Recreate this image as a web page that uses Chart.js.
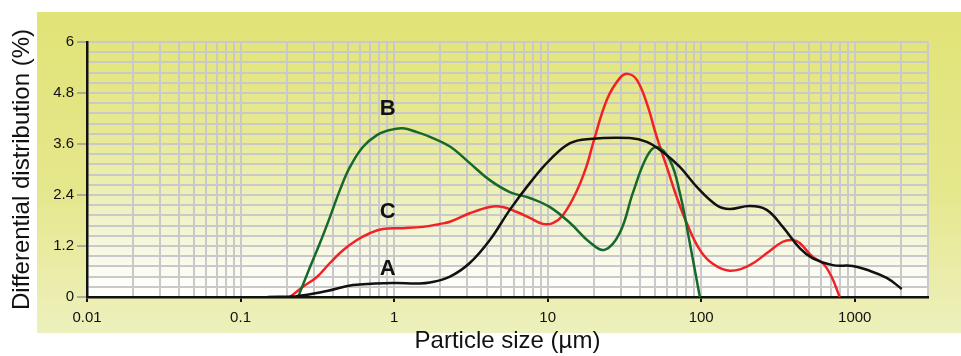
<!DOCTYPE html>
<html>
<head>
<meta charset="utf-8">
<script src="https://cdn.jsdelivr.net/npm/chart.js@4"></script>
<style>
  html, body { margin: 0; padding: 0; background: #fff; }
  #wrap { position: relative; width: 961px; height: 356px; }
</style>
</head>
<body>
<div id="wrap"><canvas id="psd" width="961" height="356"></canvas></div>
<script>
// Particle size (um) and differential distribution (%) for each sample
var sizeA = [0.15, 0.23, 0.365, 0.54, 0.98, 1.41, 1.71, 2.31, 3.11, 4.2, 5.67, 7.65, 10.3, 14, 18.8, 34.3, 44.2, 56.2, 72.6, 93.6, 126, 153, 207, 267, 340, 438, 533, 719, 970, 1197, 1614, 2023];
var distA = [0, 0.02, 0.14, 0.28, 0.33, 0.32, 0.34, 0.48, 0.8, 1.34, 2.05, 2.68, 3.22, 3.62, 3.72, 3.74, 3.65, 3.41, 3.06, 2.59, 2.16, 2.07, 2.14, 2.05, 1.65, 1.15, 0.91, 0.75, 0.73, 0.64, 0.45, 0.19];

var sizeB = [0.237, 0.283, 0.329, 0.382, 0.444, 0.516, 0.626, 0.773, 0.94, 1.14, 1.41, 1.71, 2.31, 3.11, 4.2, 5.67, 7.65, 10.3, 14, 18.8, 23.5, 29.5, 35.9, 44.2, 51.4, 62.5, 72.6, 84.3, 98];
var distB = [0, 0.7, 1.27, 1.88, 2.52, 3.06, 3.53, 3.81, 3.93, 3.97, 3.88, 3.77, 3.54, 3.15, 2.75, 2.47, 2.33, 2.12, 1.74, 1.29, 1.11, 1.51, 2.45, 3.3, 3.53, 3.22, 2.45, 1.27, 0];

var sizeC = [0.21, 0.255, 0.314, 0.382, 0.465, 0.573, 0.695, 0.845, 1.14, 1.54, 1.99, 2.31, 3.11, 4.2, 5.1, 6.3, 7.65, 9.3, 10.8, 12.6, 15.5, 18, 19.7, 24.3, 29.5, 33.3, 38.1, 44.2, 51.4, 59.7, 69.3, 80.5, 98, 119, 153, 207, 267, 340, 394, 438, 533, 619, 708, 798];
var distC = [0, 0.24, 0.47, 0.8, 1.1, 1.34, 1.5, 1.6, 1.62, 1.65, 1.72, 1.77, 1.97, 2.12, 2.12, 2.0, 1.86, 1.72, 1.74, 1.93, 2.5, 3.1, 3.6, 4.64, 5.15, 5.25, 5.11, 4.56, 3.76, 3.06, 2.35, 1.74, 1.11, 0.78, 0.62, 0.75, 1.03, 1.3, 1.34, 1.27, 0.94, 0.8, 0.47, 0];

// Curve name labels (position in data units)
var curveNames = ['A', 'B', 'C'];
var nameSize = [0.91, 0.91, 0.91];
var nameDist = [0.66, 4.42, 2.0];

// Axis ticks
var xDecades = [0.01, 0.1, 1, 10, 100, 1000];
var xTickLabels = ['0.01', '0.1', '1', '10', '100', '1000'];
var xMax = 3000;
var yTickLabels = ['0', '1.2', '2.4', '3.6', '4.8', '6'];
var yGridStep = 0.24;
var yMax = 6;

// Build grid positions for the log axis (1..9 per decade)
var xGrid = [];
xDecades.forEach(function (d) {
  for (var m = 1; m <= 9; m++) {
    if (d * m <= xMax + 1e-9) xGrid.push(d * m);
  }
});
var yGrid = [];
for (var k = 0; k <= Math.round(yMax / yGridStep); k++) yGrid.push(+(k * yGridStep).toFixed(4));

function toPoints(xs, ys) {
  return xs.map(function (x, i) { return { x: x, y: ys[i] }; });
}

function isDecade(v) {
  return xDecades.some(function (d) { return Math.abs(v / d - 1) < 1e-6; });
}
function yLabelFor(v) {
  var idx = Math.round(v / 1.2);
  if (Math.abs(v - idx * 1.2) < 1e-6) return yTickLabels[idx];
  return '';
}

// Backgrounds: yellow panel and faded plot area, plus the A/B/C names
var backgroundPlugin = {
  id: 'bg',
  beforeDraw: function (chart) {
    var ctx = chart.ctx;
    var a = chart.chartArea;
    ctx.save();
    var g1 = ctx.createLinearGradient(0, 12, 0, 333);
    g1.addColorStop(0, '#e1e377');
    g1.addColorStop(0.55, '#e5e78c');
    g1.addColorStop(1, '#eef0bd');
    ctx.fillStyle = g1;
    ctx.fillRect(37, 12, 924, 321);
    var g2 = ctx.createLinearGradient(0, a.top, 0, a.bottom);
    g2.addColorStop(0, '#e3e57b');
    g2.addColorStop(0.35, '#e7e993');
    g2.addColorStop(0.65, '#eff1c0');
    g2.addColorStop(0.88, '#fbfbf0');
    g2.addColorStop(1, '#ffffff');
    ctx.fillStyle = g2;
    ctx.fillRect(a.left, a.top, a.right - a.left, a.bottom - a.top);
    ctx.restore();
  },
  afterDatasetsDraw: function (chart) {
    var ctx = chart.ctx;
    var xs = chart.scales.x, ys = chart.scales.y;
    ctx.save();
    ctx.font = 'bold 22px "Liberation Sans", Arial, sans-serif';
    ctx.fillStyle = '#111';
    ctx.textAlign = 'center';
    ctx.textBaseline = 'middle';
    curveNames.forEach(function (n, i) {
      ctx.fillText(n, xs.getPixelForValue(nameSize[i]), ys.getPixelForValue(nameDist[i]));
    });
    ctx.restore();
  }
};

var ctx = document.getElementById('psd').getContext('2d');
var myChart = new Chart(ctx, {
  type: 'scatter',
  data: {
    datasets: [
      { label: 'A', data: toPoints(sizeA, distA), borderColor: '#111111' },
      { label: 'B', data: toPoints(sizeB, distB), borderColor: '#16692a' },
      { label: 'C', data: toPoints(sizeC, distC), borderColor: '#f02228' }
    ]
  },
  options: {
    responsive: false,
    animation: false,
    showLine: true,
    layout: { padding: { top: 42, right: 33, left: 0, bottom: 0 } },
    elements: {
      point: { radius: 0, hoverRadius: 0 },
      line: { borderWidth: 2.5, tension: 0.4, fill: false }
    },
    plugins: {
      legend: { display: false },
      tooltip: { enabled: false }
    },
    scales: {
      x: {
        type: 'logarithmic',
        min: 0.01,
        max: xMax,
        afterBuildTicks: function (scale) {
          scale.ticks = xGrid.map(function (v) { return { value: v }; });
        },
        afterFit: function (scale) { scale.height = 59; },
        ticks: {
          autoSkip: false,
          maxRotation: 0,
          padding: 7,
          color: '#111',
          font: { family: '"Liberation Sans", Arial, sans-serif', size: 15 },
          callback: function (v) {
            for (var i = 0; i < xDecades.length; i++) {
              if (Math.abs(v / xDecades[i] - 1) < 1e-6) return xTickLabels[i];
            }
            return '';
          }
        },
        grid: {
          color: '#c9c9c9',
          lineWidth: 2,
          tickLength: 5,
          tickWidth: 2,
          tickColor: function (c) { return c.tick && isDecade(c.tick.value) ? '#111' : 'rgba(0,0,0,0)'; }
        },
        border: { color: '#111', width: 2.5 },
        title: {
          display: true,
          text: 'Particle size (µm)',
          color: '#111',
          padding: { top: 0, bottom: 0 },
          font: { family: '"Liberation Sans", Arial, sans-serif', size: 24 }
        }
      },
      y: {
        min: 0,
        max: yMax,
        afterBuildTicks: function (scale) {
          scale.ticks = yGrid.map(function (v) { return { value: v }; });
        },
        afterFit: function (scale) { scale.width = 87; },
        ticks: {
          autoSkip: false,
          padding: 3,
          color: '#111',
          font: { family: '"Liberation Sans", Arial, sans-serif', size: 15 },
          callback: function (v) { return yLabelFor(v); }
        },
        grid: {
          color: '#c9c9c9',
          lineWidth: 2,
          tickLength: 10,
          tickWidth: 1.5,
          tickColor: function (c) { return c.tick && yLabelFor(c.tick.value) !== '' ? '#999' : 'rgba(0,0,0,0)'; }
        },
        border: { color: '#111', width: 2.5 },
        title: {
          display: true,
          text: 'Differential distribution (%)',
          color: '#111',
          padding: { top: 8, bottom: 0 },
          font: { family: '"Liberation Sans", Arial, sans-serif', size: 24 }
        }
      }
    }
  },
  plugins: [backgroundPlugin]
});
</script>
</body>
</html>
